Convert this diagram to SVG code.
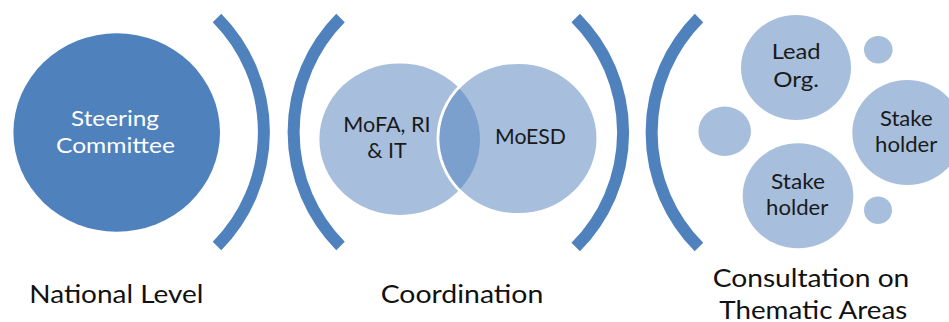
<svg xmlns="http://www.w3.org/2000/svg" width="949" height="322" viewBox="0 0 949 322">
  <style>
    .dark { fill: #4F81BD; }
    .light { fill: #A7BFDD; }
    .overlap { fill: #7BA0CD; }
    .bracket { fill: none; stroke: #4F81BD; stroke-width: 12; stroke-linecap: butt; }
    text { font-family: Lato, "Open Sans", "Liberation Sans", sans-serif; text-anchor: middle; }
    .inner { fill: #1A1A1A; font-size: 21px; }
    .white { fill: #FFFFFF; font-size: 22px; }
    .caption { fill: #111111; font-size: 25px; }
  </style>

  <!-- curved dividers between the three levels -->
  <g id="dividers">
    <path class="bracket" d="M 217 18 A 162 162 0 0 1 217 246"/>
    <path class="bracket" d="M 340.5 18 A 162 162 0 0 0 340.5 246"/>
    <path class="bracket" d="M 575.7 18 A 162 162 0 0 1 575.7 247"/>
    <path class="bracket" d="M 699 18 A 162 162 0 0 0 699 247"/>
  </g>

  <!-- National level -->
  <g id="steering-committee">
    <ellipse class="dark" cx="116.7" cy="132.5" rx="103.3" ry="99.2"/>
    <text class="white" x="115" y="126" textLength="88" lengthAdjust="spacingAndGlyphs">Steering</text>
    <text class="white" x="115.5" y="153.3" textLength="119" lengthAdjust="spacingAndGlyphs">Committee</text>
  </g>

  <!-- Coordination: two overlapping ministries -->
  <defs>
    <clipPath id="clip-mofa">
      <ellipse cx="399.7" cy="139.2" rx="80.3" ry="75.8"/>
    </clipPath>
  </defs>
  <g id="mofa">
    <ellipse class="light" cx="399.7" cy="139.2" rx="80.3" ry="75.8"/>
    <text class="inner" x="387" y="132.3" textLength="87.3" lengthAdjust="spacingAndGlyphs">MoFA, RI</text>
    <text class="inner" x="387" y="158.3" textLength="39.4" lengthAdjust="spacingAndGlyphs">&amp; IT</text>
  </g>
  <g id="moesd">
    <ellipse class="light" cx="518" cy="138.5" rx="80" ry="76" stroke="#FFFFFF" stroke-width="3"/>
    <ellipse class="overlap" cx="518" cy="138.5" rx="78.5" ry="74.5" clip-path="url(#clip-mofa)"/>
    <text class="inner" x="530.5" y="144.3" textLength="71" lengthAdjust="spacingAndGlyphs">MoESD</text>
  </g>

  <!-- Consultation on thematic areas -->
  <g id="lead-org">
    <ellipse class="light" cx="796" cy="67.5" rx="55" ry="52.5"/>
    <text class="inner" x="796.2" y="59.3" textLength="49" lengthAdjust="spacingAndGlyphs">Lead</text>
    <text class="inner" x="796.2" y="87.3" textLength="45.7" lengthAdjust="spacingAndGlyphs">Org.</text>
  </g>
  <g id="stakeholder-right">
    <ellipse class="light" cx="907.3" cy="132.5" rx="55" ry="52.5"/>
    <text class="inner" x="906.3" y="126" textLength="52.7" lengthAdjust="spacingAndGlyphs">Stake</text>
    <text class="inner" x="906.2" y="151.7" textLength="62.3" lengthAdjust="spacingAndGlyphs">holder</text>
  </g>
  <g id="stakeholder-bottom">
    <ellipse class="light" cx="798" cy="195.8" rx="55.3" ry="52.5"/>
    <text class="inner" x="798" y="189.3" textLength="54" lengthAdjust="spacingAndGlyphs">Stake</text>
    <text class="inner" x="797.2" y="215" textLength="62.3" lengthAdjust="spacingAndGlyphs">holder</text>
  </g>
  <g id="dot-left">
    <ellipse class="light" cx="724.7" cy="131.3" rx="26.3" ry="24.7"/>
  </g>
  <g id="dot-top-right">
    <ellipse class="light" cx="878.3" cy="49.7" rx="14.3" ry="13.7"/>
  </g>
  <g id="dot-bottom-right">
    <ellipse class="light" cx="878" cy="210.3" rx="14" ry="13.7"/>
  </g>

  <!-- level captions -->
  <g id="captions">
    <text class="caption" x="116.3" y="303.3" textLength="174" lengthAdjust="spacingAndGlyphs">National Level</text>
    <text class="caption" x="462" y="303.3" textLength="162.7" lengthAdjust="spacingAndGlyphs">Coordination</text>
    <text class="caption" x="811" y="286.7" textLength="196.7" lengthAdjust="spacingAndGlyphs">Consultation on</text>
    <text class="caption" x="813.3" y="318.5" textLength="188" lengthAdjust="spacingAndGlyphs">Thematic Areas</text>
  </g>
</svg>
